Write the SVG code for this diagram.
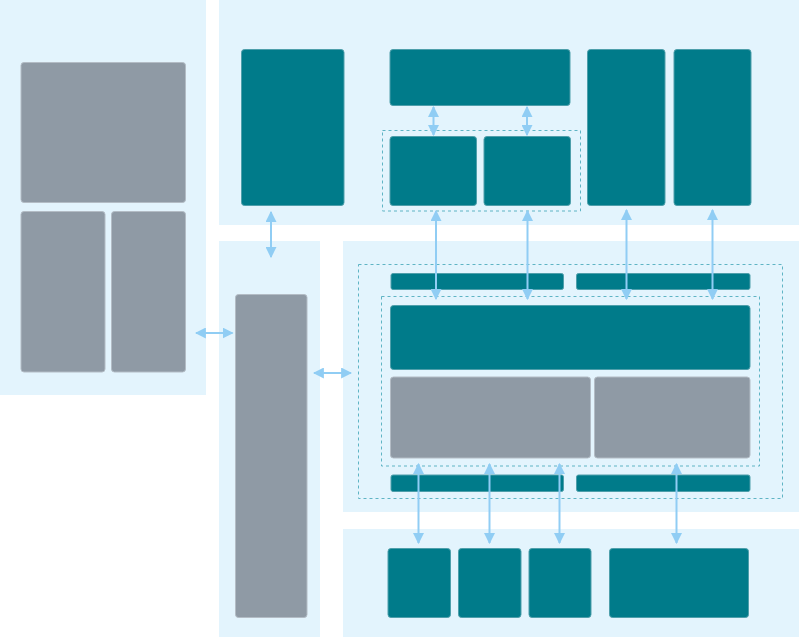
<svg xmlns="http://www.w3.org/2000/svg" width="800" height="637" viewBox="0 0 800 637">
<defs>
<style>
.panel{fill:#e3f4fd}
.teal{fill:#007b8a;stroke:#4e9fab;stroke-width:1}
.gray{fill:#8f9aa5;stroke:#b3bcc5;stroke-width:1}
.dash{fill:none;stroke:#5fb4c4;stroke-width:1;stroke-dasharray:3,3}
.arr{stroke:#90cdf4;stroke-width:2;fill:none;marker-start:url(#ah);marker-end:url(#ah)}
</style>
<marker id="ah" viewBox="0 0 10 10" refX="9" refY="5" markerWidth="11" markerHeight="11" markerUnits="userSpaceOnUse" orient="auto-start-reverse">
<path d="M0,0 L10,5 L0,10 z" fill="#90cdf4"/>
</marker>
</defs>
<rect width="800" height="637" fill="#ffffff"/>
<g id="panels">
<rect class="panel" x="0" y="0" width="206" height="395"/>
<rect class="panel" x="219" y="0" width="580" height="225"/>
<rect class="panel" x="219" y="241" width="101" height="396"/>
<rect class="panel" x="343" y="241" width="456" height="271"/>
<rect class="panel" x="343" y="529" width="456" height="108"/>
</g>
<g id="groups">
<rect class="dash" x="382.5" y="130.5" width="198" height="80.5"/>
<rect class="dash" x="358.5" y="264.5" width="424" height="234"/>
<rect class="dash" x="381.5" y="296.5" width="378" height="169.5"/>
</g>
<g id="nodes">
<g id="n-left-top"><rect class="gray" x="21" y="62.5" width="164.5" height="140" rx="3"/></g>
<g id="n-left-bl"><rect class="gray" x="21" y="211.5" width="84" height="160.5" rx="3"/></g>
<g id="n-left-br"><rect class="gray" x="111.5" y="211.5" width="74" height="160.5" rx="3"/></g>
<g id="n-top-tall"><rect class="teal" x="241.5" y="49.5" width="102.5" height="156" rx="3"/></g>
<g id="n-top-wide"><rect class="teal" x="390" y="49.5" width="180" height="56" rx="3"/></g>
<g id="n-top-s1"><rect class="teal" x="390" y="136.5" width="86.5" height="69" rx="3"/></g>
<g id="n-top-s2"><rect class="teal" x="484" y="136.5" width="86.5" height="69" rx="3"/></g>
<g id="n-top-r1"><rect class="teal" x="587.5" y="49.5" width="77.5" height="156" rx="3"/></g>
<g id="n-top-r2"><rect class="teal" x="674" y="49.5" width="77" height="156" rx="3"/></g>
<g id="n-mid-tall"><rect class="gray" x="235.5" y="294.5" width="71.5" height="323" rx="3"/></g>
<g id="n-bar-t1"><rect class="teal" x="391" y="273.5" width="172.5" height="16" rx="2"/></g>
<g id="n-bar-t2"><rect class="teal" x="576.5" y="273.5" width="173.5" height="16" rx="2"/></g>
<g id="n-core"><rect class="teal" x="390.5" y="305.5" width="359.5" height="64" rx="3"/></g>
<g id="n-gray1"><rect class="gray" x="390.5" y="377" width="200" height="81" rx="3"/></g>
<g id="n-gray2"><rect class="gray" x="594.5" y="377" width="155.5" height="81" rx="3"/></g>
<g id="n-bar-b1"><rect class="teal" x="391" y="475" width="172.5" height="16.5" rx="2"/></g>
<g id="n-bar-b2"><rect class="teal" x="576.5" y="475" width="173.5" height="16.5" rx="2"/></g>
<g id="n-bot1"><rect class="teal" x="388" y="548.5" width="62.5" height="69" rx="3"/></g>
<g id="n-bot2"><rect class="teal" x="458.5" y="548.5" width="62.5" height="69" rx="3"/></g>
<g id="n-bot3"><rect class="teal" x="529" y="548.5" width="62" height="69" rx="3"/></g>
<g id="n-bot4"><rect class="teal" x="609.5" y="548.5" width="139" height="69" rx="3"/></g>
</g>
<g id="connectors">
<line class="arr" x1="433.5" y1="107" x2="433.5" y2="135"/>
<line class="arr" x1="527" y1="107" x2="527" y2="135"/>
<line class="arr" x1="436" y1="211" x2="436" y2="299"/>
<line class="arr" x1="527.5" y1="211" x2="527.5" y2="299"/>
<line class="arr" x1="626.5" y1="210" x2="626.5" y2="299"/>
<line class="arr" x1="712.5" y1="210" x2="712.5" y2="299"/>
<line class="arr" x1="271" y1="212" x2="271" y2="257"/>
<line class="arr" x1="196" y1="333" x2="232.5" y2="333"/>
<line class="arr" x1="314" y1="373" x2="351" y2="373"/>
<line class="arr" x1="418.5" y1="464" x2="418.5" y2="543"/>
<line class="arr" x1="489.5" y1="464" x2="489.5" y2="543"/>
<line class="arr" x1="559.5" y1="464" x2="559.5" y2="543"/>
<line class="arr" x1="676.5" y1="464" x2="676.5" y2="543"/>
</g>
</svg>
